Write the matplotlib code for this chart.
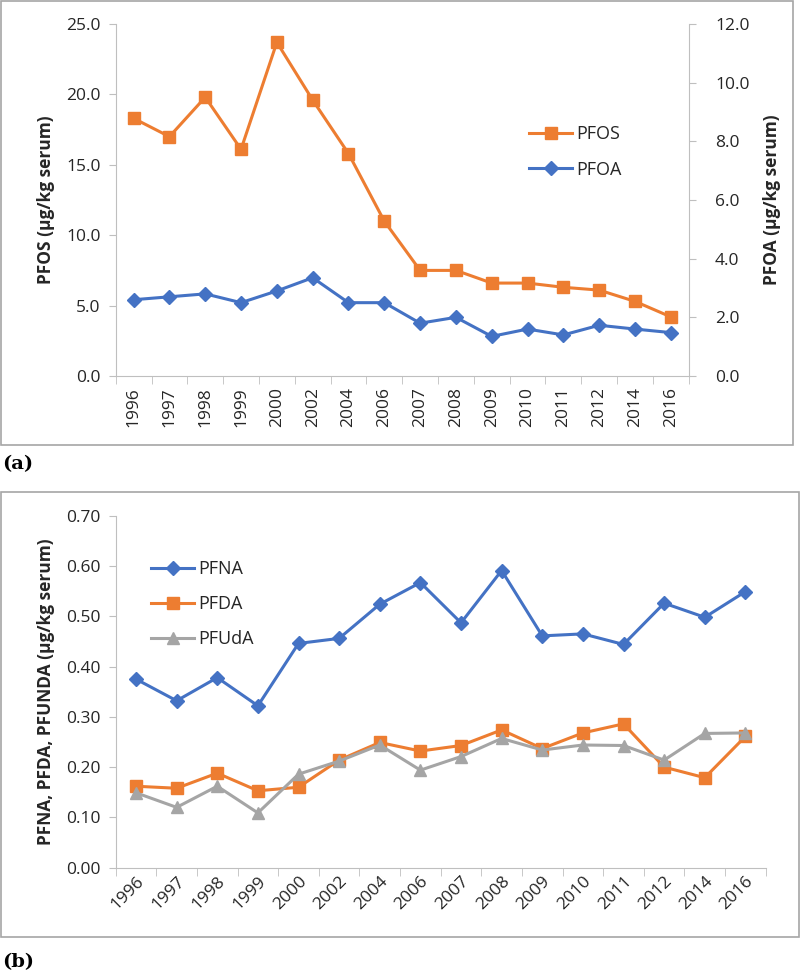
import matplotlib
matplotlib.use("Agg")
import matplotlib.pyplot as plt
from matplotlib.patches import Rectangle
from matplotlib.ticker import FormatStrFormatter, FixedLocator

years = ["1996", "1997", "1998", "1999", "2000", "2002", "2004", "2006",
         "2007", "2008", "2009", "2010", "2011", "2012", "2014", "2016"]

pfos = [18.3, 17.0, 19.8, 16.1, 23.7, 19.6, 15.8, 11.0,
        7.5, 7.5, 6.6, 6.6, 6.3, 6.1, 5.3, 4.2]
pfoa = [2.6, 2.7, 2.8, 2.5, 2.9, 3.35, 2.5, 2.5,
        1.8, 2.0, 1.35, 1.6, 1.4, 1.73, 1.6, 1.48]

pfna = [0.375, 0.332, 0.378, 0.322, 0.446, 0.456, 0.524, 0.567,
        0.487, 0.591, 0.461, 0.465, 0.444, 0.526, 0.498, 0.549]
pfda = [0.162, 0.158, 0.188, 0.153, 0.160, 0.214, 0.249, 0.232,
        0.243, 0.274, 0.237, 0.268, 0.286, 0.200, 0.179, 0.261]
pfuda = [0.149, 0.120, 0.162, 0.109, 0.186, 0.212, 0.244, 0.194,
         0.221, 0.257, 0.234, 0.244, 0.243, 0.214, 0.267, 0.268]

ORANGE = "#ED7D31"
BLUE = "#4472C4"
GRAY = "#A5A5A5"
SPINE = "#BFBFBF"
TXT = "#262626"

plt.rcParams['font.family'] = ['Open Sans', 'DejaVu Sans']

TICK_FS = 12.5
LAB_FS = 12.5
LEG_FS = 13

W, H = 800, 974
fig = plt.figure(figsize=(W / 100, H / 100), dpi=100)

def fx(px):
    return px / W

def fy(py):
    return 1 - py / H

x = list(range(len(years)))

def style_axis(ax, right=False):
    for s in ax.spines.values():
        s.set_visible(False)
    ax.spines['bottom'].set_visible(True)
    ax.spines['bottom'].set_color(SPINE)
    side = 'right' if right else 'left'
    ax.spines[side].set_visible(True)
    ax.spines[side].set_color(SPINE)
    ax.tick_params(axis='y', colors=SPINE, labelcolor=TXT, length=5,
                   labelsize=TICK_FS, direction='out')
    ax.set_facecolor('none')

def style_x(ax, rotation, ha, rmode):
    ax.set_xlim(-0.5, len(years) - 0.5)
    ax.xaxis.set_major_locator(FixedLocator(x))
    ax.set_xticklabels(years, rotation=rotation, ha=ha, rotation_mode=rmode)
    ax.xaxis.set_minor_locator(FixedLocator([i - 0.5 for i in range(len(years) + 1)]))
    ax.tick_params(axis='x', which='major', length=0, labelsize=TICK_FS,
                   labelcolor=TXT, pad=8)
    ax.tick_params(axis='x', which='minor', length=6, color=SPINE,
                   direction='out')

# ---------- panel (a) ----------
axA = fig.add_axes([fx(115.7), fy(376), fx(688.7) - fx(115.7), fy(24) - fy(376)])
axA2 = axA.twinx()
style_axis(axA)
style_axis(axA2, right=True)
axA2.spines['bottom'].set_visible(False)
style_x(axA, 90, 'center', 'default')
axA.set_ylim(0, 25)
axA.set_yticks([0, 5, 10, 15, 20, 25])
axA.yaxis.set_major_formatter(FormatStrFormatter('%.1f'))
axA2.set_ylim(0, 12)
axA2.set_yticks([0, 2, 4, 6, 8, 10, 12])
axA2.yaxis.set_major_formatter(FormatStrFormatter('%.1f'))
axA.tick_params(axis='y', pad=6)
axA2.tick_params(axis='y', pad=14)

l1, = axA.plot(x, pfos, color=ORANGE, lw=2.2, marker='s', ms=9,
               label='PFOS', clip_on=False)
l2, = axA2.plot(x, pfoa, color=BLUE, lw=2.2, marker='D', ms=7,
                label='PFOA', clip_on=False)
axA.set_ylabel('PFOS (µg/kg serum)', fontsize=LAB_FS, fontweight='bold',
               color=TXT, labelpad=8)
axA2.set_ylabel('PFOA (µg/kg serum)', fontsize=LAB_FS, fontweight='bold',
                color=TXT, labelpad=10)
axA2.legend([l1, l2], ['PFOS', 'PFOA'], loc='center left',
            bbox_to_anchor=(fx(520), fy(152)), bbox_transform=fig.transFigure,
            frameon=False, fontsize=LEG_FS, handlelength=2.4, handletextpad=0.2,
            labelspacing=0.95, borderpad=0, labelcolor=TXT)

# ---------- panel (b) ----------
axB = fig.add_axes([fx(115.7), fy(867.7), fx(765.7) - fx(115.7), fy(515.7) - fy(867.7)])
style_axis(axB)
style_x(axB, 45, 'right', 'anchor')
axB.tick_params(axis='x', which='major', pad=4)
axB.set_ylim(0, 0.70)
axB.set_yticks([0, 0.1, 0.2, 0.3, 0.4, 0.5, 0.6, 0.7])
axB.yaxis.set_major_formatter(FormatStrFormatter('%.2f'))
axB.tick_params(axis='y', pad=6)

axB.plot(x, pfna, color=BLUE, lw=2.2, marker='D', ms=7, label='PFNA', clip_on=False)
axB.plot(x, pfda, color=ORANGE, lw=2.2, marker='s', ms=9, label='PFDA', clip_on=False)
axB.plot(x, pfuda, color=GRAY, lw=2.2, marker='^', ms=9, label='PFUdA', clip_on=False)
axB.set_ylabel('PFNA, PFDA, PFUNDA (µg/kg serum)', fontsize=LAB_FS,
               fontweight='bold', color=TXT, labelpad=8)
axB.legend(loc='center left', bbox_to_anchor=(fx(142), fy(604)),
           bbox_transform=fig.transFigure, frameon=False, fontsize=LEG_FS,
           handlelength=2.4, handletextpad=0.2, labelspacing=0.95,
           borderpad=0, labelcolor=TXT)

# ---------- frames and panel labels ----------
fig.patches.append(Rectangle((fx(1), fy(444.7)), fx(793) - fx(1), fy(1) - fy(444.7),
                             transform=fig.transFigure, fill=False,
                             edgecolor='#A6A6A6', lw=1.2, zorder=0))
fig.patches.append(Rectangle((fx(1), fy(937)), fx(798.5) - fx(1), fy(492) - fy(937),
                             transform=fig.transFigure, fill=False,
                             edgecolor='#A6A6A6', lw=1.2, zorder=0))
fig.text(fx(2), fy(464), '(a)', fontsize=14, fontweight='bold',
         family='DejaVu Serif', va='center', ha='left', color='black')
fig.text(fx(2), fy(962), '(b)', fontsize=14, fontweight='bold',
         family='DejaVu Serif', va='center', ha='left', color='black')

fig.savefig('out.png', dpi=100)
